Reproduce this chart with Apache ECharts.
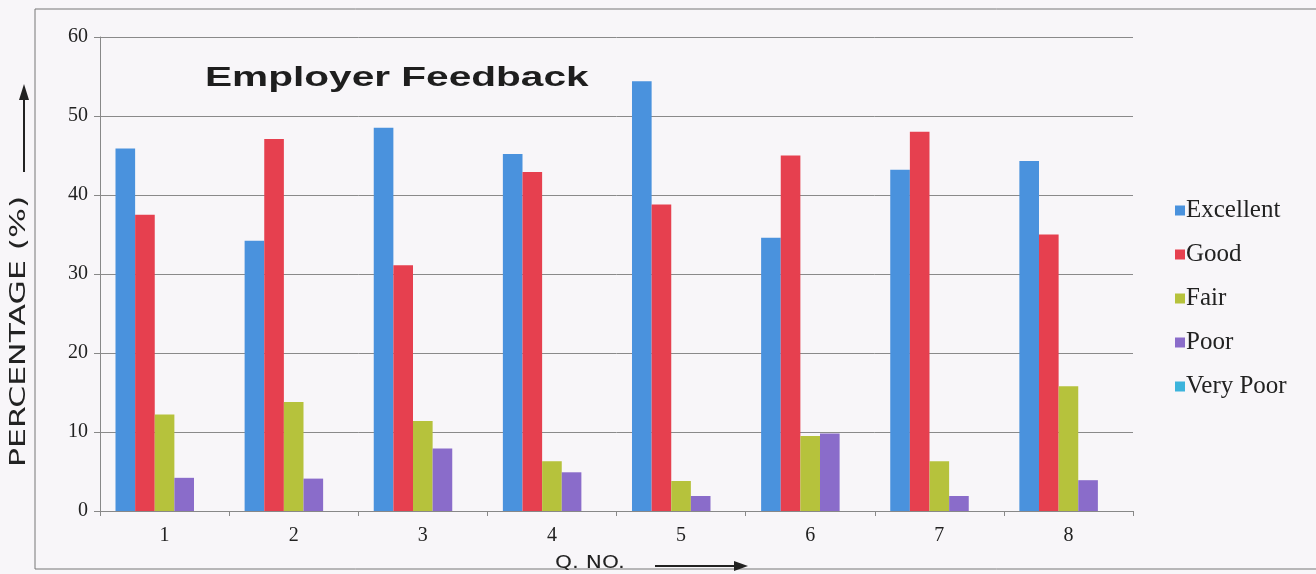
<!DOCTYPE html>
<html>
<head>
<meta charset="utf-8">
<script src="https://cdn.jsdelivr.net/npm/echarts@6/dist/echarts.min.js"></script>
<style>
  html, body { margin: 0; padding: 0; background: #f8f6f9; }
  #main { width: 1316px; height: 574px; }
</style>
</head>
<body>
<div id="main"></div>
<script>
// question numbers on the x axis
const questions = ["1", "2", "3", "4", "5", "6", "7", "8"];

// percentage of each rating
const excellent = [45.9, 34.2, 48.5, 45.2, 54.4, 34.6, 43.2, 44.3];
const good = [37.5, 47.1, 31.1, 42.9, 38.8, 45.0, 48.0, 35.0];
const fair = [12.2, 13.8, 11.4, 6.3, 3.8, 9.5, 6.3, 15.8];
const poor = [4.2, 4.1, 7.9, 4.9, 1.9, 9.8, 1.9, 3.9];
const veryPoor = [0, 0, 0, 0, 0, 0, 0, 0];

const seriesNames = ["Excellent", "Good", "Fair", "Poor", "Very Poor"];
const seriesData = [excellent, good, fair, poor, veryPoor];
const colors = ["#4a92dd", "#e6404f", "#b6c23c", "#8a6cca", "#3cb4dc"];

const serif = "'Liberation Serif', 'DejaVu Serif', serif";

var chart = echarts.init(document.getElementById("main"));

var option = {
  backgroundColor: "#f8f6f9",
  color: colors,
  animation: false,
  grid: {
    left: 100,
    right: 183,
    top: 37,
    bottom: 63
  },
  legend: {
    orient: "vertical",
    left: 1170,
    top: 193,
    itemWidth: 10,
    itemHeight: 10,
    itemGap: 19,
    icon: "rect",
    textStyle: {
      fontFamily: serif,
      fontSize: 25,
      color: "#222",
      padding: [0, 0, 0, -4]
    },
    data: seriesNames
  },
  xAxis: {
    type: "category",
    data: questions,
    axisLine: { lineStyle: { color: "#888", width: 1 } },
    axisTick: { show: true, length: 5, lineStyle: { color: "#888" } },
    axisLabel: {
      fontFamily: serif,
      fontSize: 20,
      color: "#222",
      margin: 15
    }
  },
  yAxis: {
    type: "value",
    min: 0,
    max: 60,
    interval: 10,
    axisLine: { show: true, lineStyle: { color: "#888", width: 1 } },
    axisTick: { show: true, length: 6, lineStyle: { color: "#888" } },
    axisLabel: {
      fontFamily: serif,
      fontSize: 20,
      color: "#222",
      margin: 12
    },
    splitLine: { lineStyle: { color: "#8a8a8a", width: 1 } }
  },
  series: seriesNames.map(function (name, i) {
    return {
      name: name,
      type: "bar",
      data: seriesData[i],
      barGap: "0%",
      barCategoryGap: "24%"
    };
  }),
  graphic: [
    // outer frame of the printed chart
    {
      type: "rect",
      shape: { x: 35, y: 9, width: 1300, height: 560 },
      style: { fill: "none", stroke: "#777", lineWidth: 1 },
      silent: true
    },
    {
      type: "text",
      x: 205,
      y: 64,
      scaleX: 1.45,
      style: {
        text: "Employer Feedback",
        font: "bold 28px 'Liberation Sans', Arial, sans-serif",
        fill: "#1e1e1e"
      }
    },
    // handwritten axis titles
    {
      type: "text",
      x: 30,
      y: 467,
      rotation: Math.PI / 2,
      scaleX: 1.5,
      style: {
        text: "PERCENTAGE (%)",
        font: "21px 'DejaVu Sans', sans-serif",
        fill: "#222",
        align: "left",
        verticalAlign: "bottom"
      }
    },
    {
      type: "line",
      shape: { x1: 24, y1: 172, x2: 24, y2: 88 },
      style: { stroke: "#222", lineWidth: 2 }
    },
    {
      type: "polygon",
      shape: { points: [[24, 84], [19, 100], [29, 100]] },
      style: { fill: "#222" }
    },
    {
      type: "text",
      x: 555,
      y: 554,
      scaleX: 1.2,
      style: {
        text: "Q. NO.",
        font: "18px 'DejaVu Sans', sans-serif",
        fill: "#222"
      }
    },
    {
      type: "line",
      shape: { x1: 655, y1: 566, x2: 740, y2: 566 },
      style: { stroke: "#222", lineWidth: 2 }
    },
    {
      type: "polygon",
      shape: { points: [[748, 566], [734, 561], [734, 571]] },
      style: { fill: "#222" }
    }
  ]
};

chart.setOption(option);
</script>
</body>
</html>
